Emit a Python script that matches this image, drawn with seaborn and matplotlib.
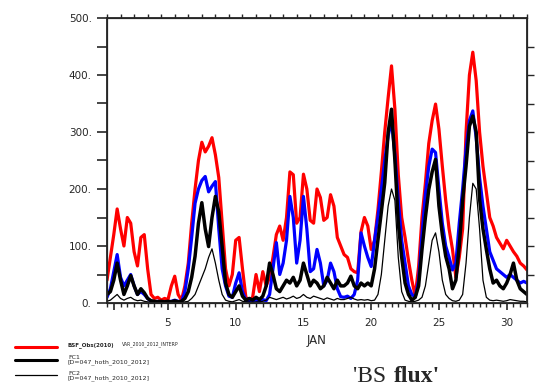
import numpy as np
import pandas as pd
import matplotlib
matplotlib.use("Agg")
import matplotlib.pyplot as plt
import seaborn as sns

# time axis: days of January, 6-hourly from 0.5 (Jan 1 00h) to 31.5
days = np.arange(0.5, 31.5 + 0.001, 0.25)

obs = [40, 80,
       120, 165, 130, 100,  150, 140, 90, 65,  115, 120, 60, 15,  8, 10, 5, 8,
       6, 30, 47, 15,  5, 30, 70, 140,  200, 250, 282, 265,  275, 290, 260, 220,
       140, 60, 30, 50,  110, 115, 60, 10,  5, 10, 50, 20,  55, 30, 45, 80,
       120, 135, 110, 150,  230, 225, 140, 150,  226, 200, 145, 140,  200, 185, 145, 150,
       190, 170, 115, 100,  85, 80, 60, 55,  53, 125, 150, 135,  94, 110, 164, 230,
       300, 360, 416, 340,  225, 150, 115, 75,  40, 12, 64, 150,  210, 280, 320, 349,
       305, 240, 180, 130,  94, 45, 80, 130,  299, 400, 440, 390,  300, 240, 195, 150,
       135, 115, 105, 95,  110, 100, 90, 82,
       70, 65, 58]

blue = [10, 25,
        55, 85, 45, 30,  40, 50, 30, 15,  20, 15, 8, 3,  2, 3, 2, 2,
        2, 3, 5, 3,  2, 20, 60, 115,  175, 200, 215, 222,  195, 205, 213, 130,
        60, 30, 12, 10,  35, 53, 20, 5,  3, 4, 5, 3,  6, 4, 15, 60,
        106, 50, 70, 110,  187, 150, 70, 110,  187, 130, 55, 60,  94, 70, 30, 40,
        70, 55, 25, 11,  10, 12, 8, 15,  40, 123, 100, 80,  64, 110, 152, 199,
        250, 293, 320, 260,  180, 110, 70, 30,  15, 10, 40, 120,  190, 240, 270, 264,
        200, 140, 100, 80,  58, 70, 140, 200,  270, 320, 337, 290,  220, 170, 130, 90,
        75, 60, 55, 50,  45, 50, 45, 40,
        35, 38, 35]

fc1 = [15, 20,
       40, 70, 40, 15,  30, 48, 30, 15,  25, 18, 8, 4,  3, 2, 3, 2,
       3, 2, 4, 2,  3, 8, 20, 45,  82, 140, 176, 130,  99, 150, 187, 160,
       99, 35, 15, 10,  20, 30, 12, 5,  8, 5, 10, 6,  12, 30, 70, 50,
       25, 20, 30, 40,  35, 45, 30, 40,  70, 50, 30, 40,  35, 25, 30, 45,
       35, 25, 40, 30,  30, 35, 47, 30,  25, 35, 30, 35,  30, 60, 111, 160,
       211, 299, 340, 250,  140, 80, 35, 15,  5, 10, 30, 94,  150, 199, 230, 252,
       170, 120, 82, 60,  25, 40, 100, 180,  240, 310, 328, 300,  182, 130, 94, 60,
       35, 40, 30, 25,  35, 50, 70, 40,
       25, 20, 15]

fc2 = [3, 5,
       10, 15, 8, 5,  8, 10, 6, 4,  5, 3, 2, 1,  1, 1, 2, 1,
       1, 2, 1, 1,  1, 2, 3, 8,  15, 30, 45, 60,  80, 95, 70, 40,
       15, 5, 3, 2,  4, 6, 3, 2,  2, 1, 2, 2,  3, 5, 10, 8,
       6, 8, 10, 7,  9, 12, 8, 10,  15, 10, 8, 12,  10, 8, 6, 9,
       7, 5, 8, 6,  6, 8, 10, 7,  5, 6, 5, 6,  4, 5, 15, 50,
       110, 170, 200, 180,  80, 20, 5, 3,  2, 3, 5, 10,  30, 70, 110, 123,
       90, 40, 15, 8,  4, 3, 5, 15,  70, 150, 210, 200,  130, 40, 10, 5,
       4, 5, 4, 3,  4, 6, 5, 4,
       3, 3, 2]

xtick_vals = [1, 5, 10, 15, 20, 25, 30]
xtick_labels = ["", "5", "10", "15", "20", "25", "30"]
ytick_vals = [0, 100, 200, 300, 400, 500]
ytick_labels = ["0.", "100.", "200.", "300.", "400.", "500."]
leg_labels = ["FC1\n[D=047_hoth_2010_2012]", "FC2\n[D=047_hoth_2010_2012]"]

df = pd.DataFrame({"day": days, "obs": obs, "blue": blue, "fc1": fc1, "fc2": fc2})

sns.set_style("ticks")
plt.rcParams["font.family"] = ["DejaVu Sans"]

fig = plt.figure(figsize=(5.35, 3.92), dpi=100)
ax = fig.add_axes([107 / 535, 1 - 303 / 392, (527 - 107) / 535, (303 - 18) / 392])

sns.lineplot(data=df, x="day", y="obs", color="#ff0000", lw=2.3, ax=ax)
sns.lineplot(data=df, x="day", y="blue", color="#0000ff", lw=2.3, ax=ax)
sns.lineplot(data=df, x="day", y="fc1", color="black", lw=2.5, ax=ax)
sns.lineplot(data=df, x="day", y="fc2", color="black", lw=0.9, ax=ax)

ax.set_xlim(0.5, 31.5)
ax.set_ylim(0, 500)
ax.set_xticks(xtick_vals)
ax.set_xticklabels(xtick_labels, fontsize=7.5)
ax.set_xticks(np.arange(0.5, 31.6, 0.5), minor=True)
ax.set_yticks(ytick_vals)
ax.set_yticklabels(ytick_labels, fontsize=7.5)
ax.set_yticks(np.arange(50, 500, 100), minor=True)
ax.tick_params(axis="y", which="both", direction="out", length=7, width=1.2, pad=4)
ax.tick_params(axis="x", which="major", direction="out", length=5, width=1.2, pad=6)
ax.tick_params(axis="x", which="minor", direction="out", length=3, width=1.0)
ax.set_xlabel("JAN", fontsize=8.5, labelpad=4)
ax.set_ylabel("")
for s in ax.spines.values():
    s.set_linewidth(1.3)
    s.set_visible(True)

# top ticks (day boundaries) and right ticks (every 50)
axt = ax.twiny()
axt.set_xlim(ax.get_xlim())
axt.set_xticks(np.arange(0.5, 31.6, 1.0))
axt.set_xticklabels([])
axt.tick_params(axis="x", direction="out", length=3, width=1.0)
axr = ax.twinx()
axr.set_ylim(ax.get_ylim())
axr.set_yticks(np.arange(50, 451, 50))
axr.set_yticklabels([])
axr.tick_params(axis="y", direction="out", length=5, width=1.0)

# legend drawn in figure pixel coordinates
lax = fig.add_axes([0, 0, 1, 1], zorder=-1)
lax.set_xlim(0, 535)
lax.set_ylim(392, 0)
lax.axis("off")
lax.plot([15, 57], [347, 347], color="#ff0000", lw=2.2)
lax.plot([15, 57], [360, 360], color="black", lw=2.2)
lax.plot([15, 57], [375, 375], color="black", lw=0.9)
lax.text(68, 345, "BSF_Obs(2010)", fontsize=4.0, fontweight="bold", va="center", ha="left")
lax.text(122, 344, "VAR_2010_2012_INTERP", fontsize=3.3, va="center", ha="left")
lax.text(68, 360, leg_labels[0], fontsize=4.5, va="center", ha="left", linespacing=1.0)
lax.text(68, 376, leg_labels[1], fontsize=4.5, va="center", ha="left", linespacing=1.0)

fig.text(392 / 535, 1 - 377 / 392, "'BS ", fontsize=17, family="Liberation Serif",
         ha="right", va="center")
fig.text(394 / 535, 1 - 377 / 392, "flux'", fontsize=17, family="Liberation Serif",
         fontweight="bold", ha="left", va="center")

fig.savefig("out.png", dpi=100)
